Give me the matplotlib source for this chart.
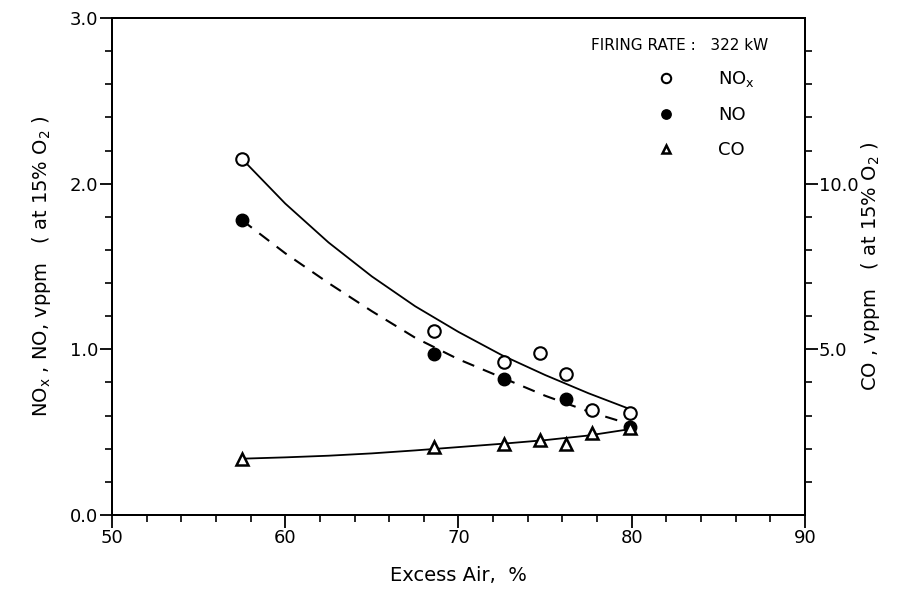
import numpy as np
import matplotlib.pyplot as plt
from matplotlib.ticker import MultipleLocator, FixedLocator

# Excess air [%] for measured points
air = [57.5, 68.6, 72.6, 74.7, 76.2, 77.7, 79.9]
nox = [2.15, 1.11, 0.925, 0.975, 0.85, 0.635, 0.615]
air_no = [57.5, 68.6, 72.6, 76.2, 79.9]
no = [1.78, 0.97, 0.82, 0.70, 0.53]
co = [1.68, 2.06, 2.14, 2.26, 2.14, 2.47, 2.62]

# Fitted curves
curve_x = [57.5, 60.0, 62.5, 65.0, 67.5, 70.0, 72.5, 75.0, 77.5, 80.0]
nox_fit = [2.15, 1.88, 1.645, 1.44, 1.26, 1.105, 0.965, 0.845, 0.735, 0.635]
no_fit = [1.78, 1.58, 1.40, 1.23, 1.07, 0.94, 0.83, 0.72, 0.625, 0.545]
co_fit = [1.70, 1.74, 1.79, 1.86, 1.95, 2.05, 2.15, 2.26, 2.40, 2.60]

plt.rcParams['font.family'] = ['DejaVu Sans']
plt.rcParams['mathtext.default'] = 'regular'

fig = plt.figure(figsize=(9.08, 5.99), dpi=100)
ax = fig.add_axes([0.1233, 0.1402, 0.7633, 0.8298])
ax2 = ax.twinx()

ax.plot(curve_x, nox_fit, color='black', lw=1.3)
ax.plot(curve_x, no_fit, color='black', lw=1.5, ls=(0, (6, 4.5)))
ax2.plot(curve_x, co_fit, color='black', lw=1.3)

ax.plot(air, nox, 'o', mfc='white', mec='black', mew=1.5, ms=9, label='NO$_x$')
ax.plot(air_no, no, 'o', mfc='black', mec='black', ms=9, label='NO')
ax2.plot(air, co, '^', mfc='white', mec='black', mew=1.8, ms=8, label='CO')

ax.set_xlim(50, 90)
ax.set_ylim(0, 3.0)
ax2.set_ylim(0, 15)

ax.xaxis.set_major_locator(MultipleLocator(10))
ax.xaxis.set_minor_locator(MultipleLocator(2))
ax.yaxis.set_major_locator(MultipleLocator(1.0))
ax.yaxis.set_minor_locator(MultipleLocator(0.2))
ax.yaxis.set_major_formatter(plt.FormatStrFormatter('%.1f'))
ax2.yaxis.set_major_locator(FixedLocator([5, 10]))
ax2.yaxis.set_minor_locator(FixedLocator([1, 2, 3, 4, 6, 7, 8, 9, 11, 12, 13, 14]))
ax2.yaxis.set_major_formatter(plt.FormatStrFormatter('%.1f'))

for a in (ax, ax2):
    a.tick_params(which='major', length=9, width=1.3, labelsize=13, direction='out', pad=1)
    a.tick_params(which='minor', length=5, width=1.2, direction='out')
    for s in a.spines.values():
        s.set_linewidth(1.4)

ax.set_xlabel('Excess Air,  %', fontsize=14, labelpad=14)
ax.set_ylabel('NO$_x$ , NO, vppm   ( at 15% O$_2$ )', fontsize=14, labelpad=12)
ax2.set_ylabel('CO , vppm   ( at 15% O$_2$ )', fontsize=14, labelpad=0, rotation=90)

ax.text(0.947, 0.945, 'FIRING RATE :   322 kW', transform=ax.transAxes,
        ha='right', va='center', fontsize=11)

h1, l1 = ax.get_legend_handles_labels()
h2, l2 = ax2.get_legend_handles_labels()
leg = ax.legend(h1 + h2, l1 + l2, loc='upper left', bbox_to_anchor=(0.76, 0.93),
                frameon=False, fontsize=13, markerscale=0.75, handlelength=1.2,
                handletextpad=2.3, labelspacing=0.95)

fig.savefig('out.png', dpi=100)
